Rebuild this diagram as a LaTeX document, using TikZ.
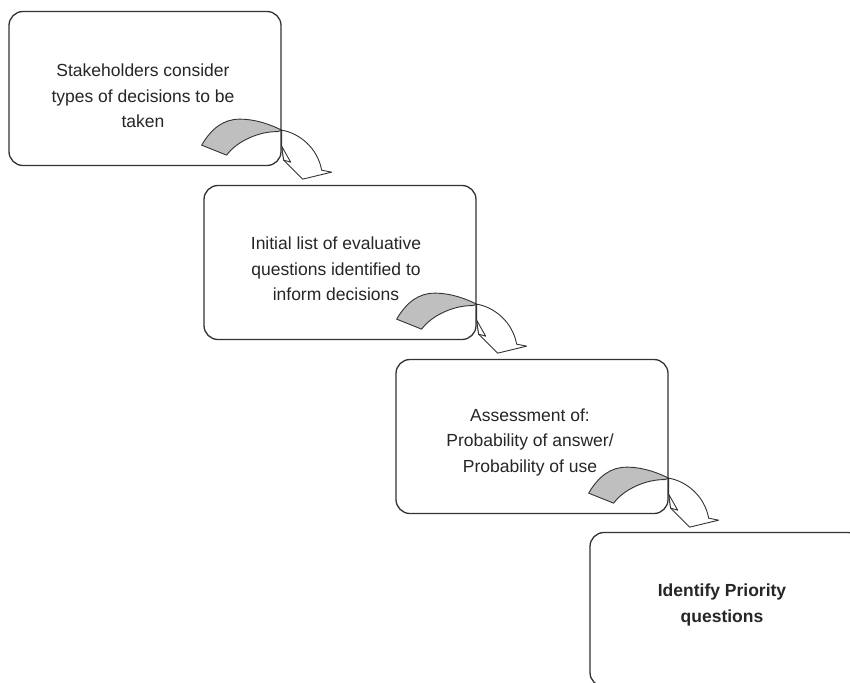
\documentclass[tikz,border=0pt]{standalone}
\usepackage{fontspec}
\setmainfont{Liberation Sans}
\begin{document}
\begin{tikzpicture}[x=1pt,y=-1pt,
  stepbox/.style={draw=black!80, line width=1.3pt, rounded corners=14pt,
    minimum width=272pt, minimum height=154pt, inner sep=0pt, fill=white},
  steptext/.style={align=center, inner sep=0pt,
    font=\fontsize{17.5}{25.5}\selectfont, text=black!85},
  ribbonback/.style={draw=black!80, line width=0.9pt, fill=black!25, line join=round},
  ribbonfront/.style={draw=black!80, line width=0.9pt, fill=white, line join=round},
  turnarrow/.pic={
    % shaded back of the ribbon
    \path[ribbonback] (-80,-21) .. controls (-70,-38) and (-58,-47) .. (-42,-47)
      .. controls (-25,-47) and (-10,-41) .. (0,-36) -- (-4,-34.5)
      .. controls (-22,-35) and (-45,-25) .. (-55,-11) -- cycle;
    % white front of the ribbon bending down into the head
    \path[ribbonfront] (0,-36) .. controls (18,-33) and (36,-18) .. (40,4)
      -- (50,6) -- (21,13) -- (2,-6) -- (0,-20) -- cycle;
    % small fold
    \path[ribbonfront] (0,-20) -- (9,-4) -- (2,-6) -- cycle;
  }]
\useasboundingbox (0,0) rectangle (850,682);
\begin{scope}
\clip (0,0) rectangle (850,682);

\node[stepbox] (b1) at (145,88.5) {};
\node[steptext] (t1) at (143,96) {Stakeholders consider\\types of decisions to be\\taken};
\pic at (b1.south east) {turnarrow};

\node[stepbox] (b2) at (340,262.5) {};
\node[steptext] (t2) at (336,269) {Initial list of evaluative\\questions identified to\\inform decisions};
\pic at (b2.south east) {turnarrow};

\node[stepbox] (b3) at (532,436.5) {};
\node[steptext] (t3) at (530,442) {Assessment of:\\Probability of answer/\\Probability of use};
\pic at (b3.south east) {turnarrow};

\node[stepbox] (b4) at (726,609.5) {};
\node[steptext, font=\fontsize{17.5}{26}\selectfont\bfseries] (t4) at (722,605)
  {Identify Priority\\questions};
\end{scope}
\end{tikzpicture}
\end{document}
